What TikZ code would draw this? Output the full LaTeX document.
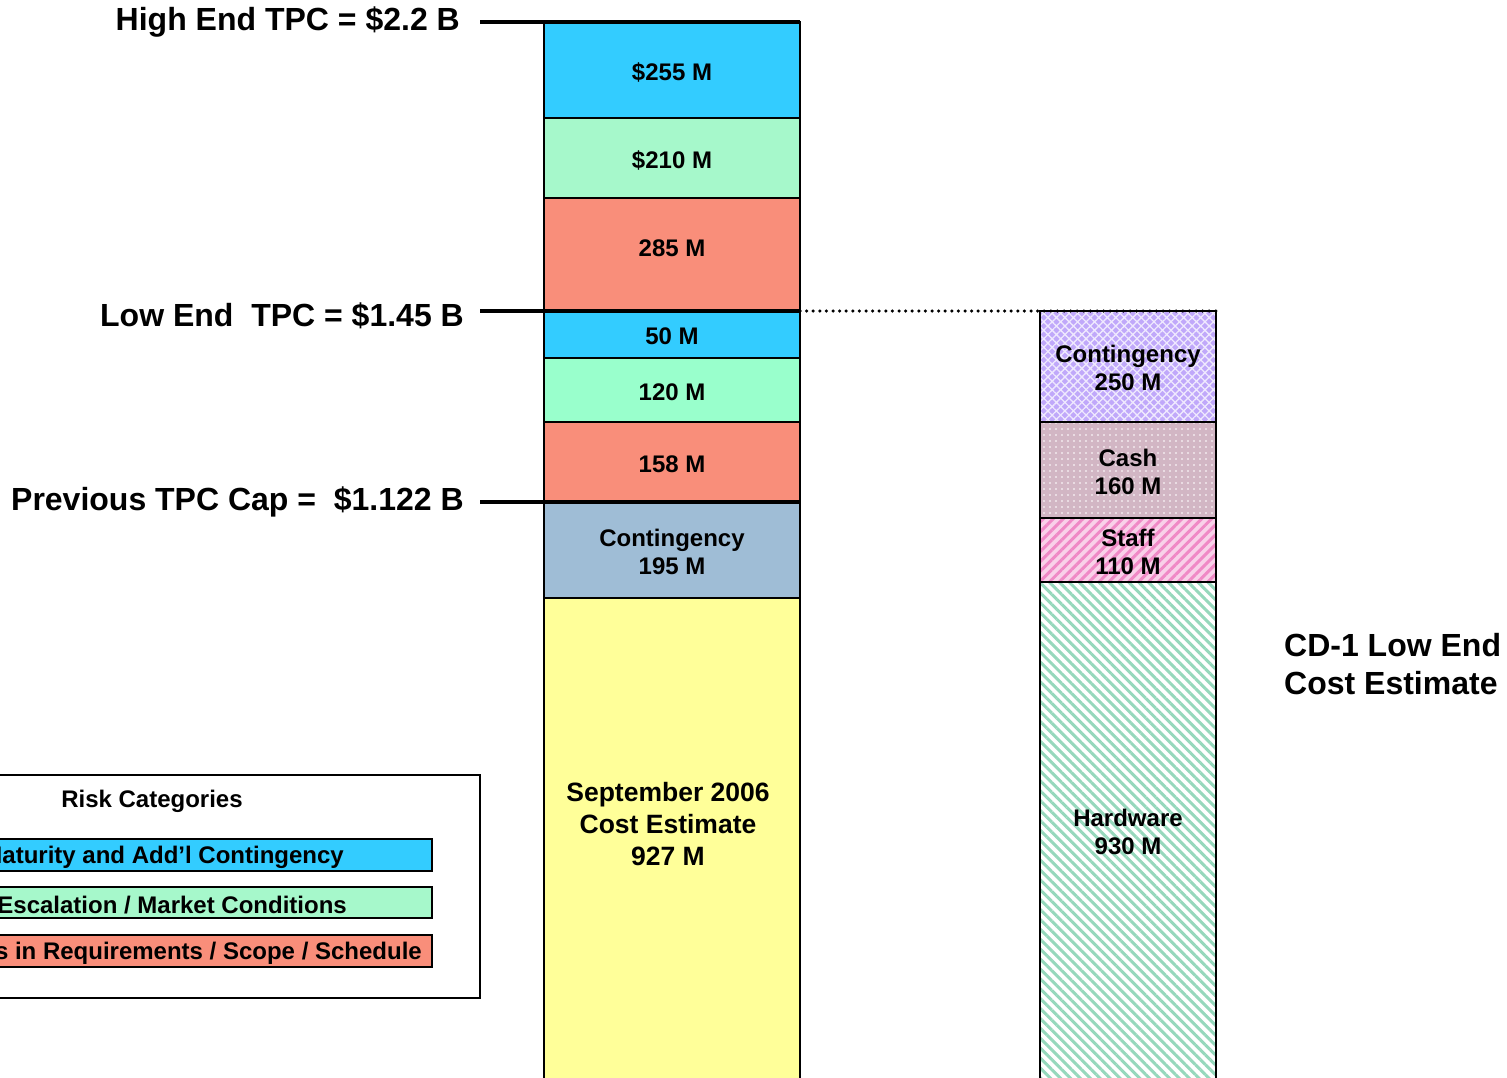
\documentclass[tikz,border=0pt]{standalone}
\usepackage{fontspec}
\setmainfont{Liberation Sans}
\usetikzlibrary{patterns.meta}
\definecolor{cyanA}{HTML}{33CCFF}
\definecolor{greenA}{HTML}{A6F8CB}
\definecolor{greenB}{HTML}{99FFCC}
\definecolor{salmon}{HTML}{F98E7A}
\definecolor{contblue}{HTML}{9FBDD6}
\definecolor{yellowA}{HTML}{FFFF99}
\definecolor{lavender}{HTML}{C0A8FA}
\definecolor{mauve}{HTML}{D2B6C4}
\definecolor{pinkS}{HTML}{EE7CC0}
\definecolor{greenS}{HTML}{96D8BC}
\tikzset{
  seg/.style={draw=black, line width=2pt, minimum width=256pt, inner sep=0pt, align=center,
    font=\fontsize{24}{28}\selectfont\bfseries},
  segb/.style={draw=black, line width=2pt, minimum width=176pt, inner sep=0pt},
  segtxt/.style={inner sep=0pt, align=center, font=\fontsize{24}{28}\selectfont\bfseries},
  lbl/.style={anchor=east, inner sep=0pt, font=\fontsize{32}{36}\selectfont\bfseries},
  lead/.style={line width=4pt},
  legbar/.style={draw=black, line width=2pt, inner sep=0pt, minimum width=452pt},
  legtxt/.style={anchor=east, inner sep=0pt, font=\fontsize{24}{28}\selectfont\bfseries},
}
\begin{document}
\begin{tikzpicture}[x=1pt,y=-1pt]
\useasboundingbox (0,0) rectangle (1507,1077);
\clip (0,0) rectangle (1507,1077);
% left column
\node[seg, fill=yellowA, minimum height=490pt] (sep) at (672,843) {};
\node[align=center, inner sep=0pt, font=\fontsize{26.5}{32}\selectfont\bfseries] (septxt) at (668,824) {September 2006\\Cost Estimate\\927 M};
\node[seg, fill=contblue, minimum height=96pt] (c195) at (672,550) {};
\node[segtxt] (c195t) at (672,552) {Contingency\\195 M};
\node[seg, fill=salmon, minimum height=80pt] (s158) at (672,462) {};
\node[segtxt] (s158t) at (672,464) {158 M};
\node[seg, fill=greenB, minimum height=64pt] (g120) at (672,390) {};
\node[segtxt] (g120t) at (672,392) {120 M};
\node[seg, fill=cyanA, minimum height=47pt] (c50) at (672,334.5) {};
\node[segtxt] (c50t) at (672,336) {50 M};
\node[seg, fill=salmon, minimum height=112pt] (s285) at (672,254) {};
\node[segtxt] (s285t) at (672,248) {285 M};
\node[seg, fill=greenA, minimum height=80pt] (g210) at (672,158) {};
\node[segtxt] (g210t) at (672,160) {\$210 M};
\node[seg, fill=cyanA, minimum height=96pt] (c255) at (672,70) {};
\node[segtxt] (c255t) at (672,72) {\$255 M};
% leader lines
\coordinate (h0) at (480,22);
\coordinate (h1) at (800,22);
\coordinate (l0) at (480,311);
\coordinate (l1) at (800,311);
\coordinate (p0) at (480,502);
\coordinate (p1) at (800,502);
\coordinate (d1) at (1216,311);
\draw[lead] (h0) -- (h1);
\draw[lead] (l0) -- (l1);
\draw[lead] (p0) -- (p1);
\node[lbl] (hl) at (460,22) {High End TPC = \$2.2 B};
\node[lbl] (ll) at (464,316) {Low End\ \ TPC = \$1.45 B};
\node[lbl] (pl) at (464,502) {Previous TPC Cap =\ \ \$1.122 B};
% right column
\node[segb, minimum height=498pt, preaction={fill=white},
  preaction={pattern={Lines[angle=-45,distance=7pt,line width=3pt]}, pattern color=greenS}] (hw) at (1128,831) {};
\node[segtxt] (hwt) at (1128,832) {Hardware\\930 M};
\node[segb, minimum height=64pt, preaction={fill=pinkS!35},
  preaction={pattern={Lines[angle=45,distance=7pt,line width=3pt]}, pattern color=pinkS!90}] (staff) at (1128,550) {};
\node[segtxt] (stafft) at (1128,552) {Staff\\110 M};
\node[segb, minimum height=96pt, preaction={fill=mauve},
  preaction={pattern={Dots[distance=6pt,radius=1.2pt]}, pattern color=white!70!mauve}] (cash) at (1128,470) {};
\node[segtxt] (casht) at (1128,472) {Cash\\160 M};
\node[segb, minimum height=111pt, preaction={fill=lavender},
  preaction={pattern={Hatch[distance=6pt,angle=45,line width=1.3pt]}, pattern color=white!75!lavender}] (c250) at (1128,366.5) {};
\node[segtxt] (c250t) at (1128,368) {Contingency\\250 M};
\draw[line width=3.5pt, line cap=round, dash pattern=on 0pt off 6.6pt] (l1) -- (d1);
% CD-1 label
\node[anchor=west, inner sep=0pt, align=left, font=\fontsize{32}{38}\selectfont\bfseries] (cd1) at (1284,664) {CD-1 Low End\\Cost Estimate};
% legend
\node[draw=black, line width=2pt, minimum width=500pt, minimum height=223pt, inner sep=0pt] (leg) at (230,886.5) {};
\node[inner sep=0pt, font=\fontsize{24}{28}\selectfont\bfseries] (legt) at (152,801) {Risk Categories};
\node[legbar, fill=cyanA, minimum height=32pt] (lb1) at (206,855) {};
\node[legbar, fill=greenA, minimum height=31pt] (lb2) at (206,902.5) {};
\node[legbar, fill=salmon, minimum height=32pt] (lb3) at (206,951) {};
\node[legtxt] (lt1) at (344,857) {Maturity and Add’l Contingency};
\node[legtxt] (lt2) at (347,905) {Escalation / Market Conditions};
\node[legtxt] (lt3) at (422,953) {Changes in Requirements / Scope / Schedule};
\end{tikzpicture}
\end{document}
